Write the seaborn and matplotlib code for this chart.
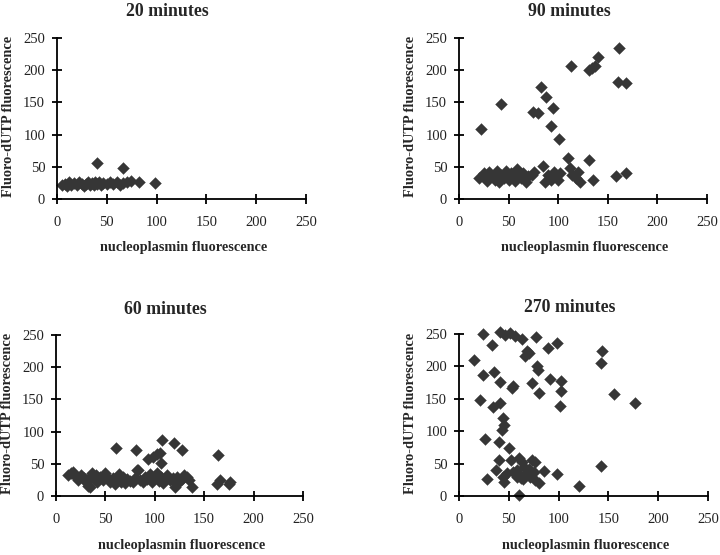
import numpy as np
import pandas as pd
import matplotlib
matplotlib.use("Agg")
import matplotlib.pyplot as plt
import seaborn as sns

# values (nucleoplasmin vs Fluoro-dUTP fluorescence)
x20 = [5, 8, 10, 12, 14, 17, 20, 22, 25, 27, 29, 31, 33, 35, 37, 38, 40, 42, 44, 46,
       50, 53, 56, 60, 63, 66, 70, 74, 82, 98, 40, 66]
y20 = [21, 23, 20, 27, 22, 25, 21, 26, 24, 20, 23, 26, 22, 25, 21, 27, 24, 26, 22, 25,
       23, 27, 24, 26, 22, 25, 27, 28, 26, 25, 56, 48]

x90 = [22, 42, 75, 80, 83, 88, 95, 93, 101, 113, 131, 134, 137, 140, 161, 160, 168,
       20, 25, 28, 30, 33, 36, 38, 40, 42, 45, 47, 50, 52, 55, 56, 58, 60, 62, 65, 68,
       70, 74, 76, 85, 87, 90, 93, 96, 98, 100, 102, 110, 112, 114, 118, 120, 122,
       131, 135, 158, 168]
y90 = [108, 147, 135, 133, 174, 158, 142, 114, 93, 207, 200, 203, 207, 221, 235, 181, 180,
       33, 40, 28, 42, 36, 30, 43, 26, 38, 33, 44, 30, 40, 36, 28, 46, 38, 32, 40, 27,
       35, 37, 42, 51, 27, 38, 30, 42, 35, 30, 40, 63, 48, 38, 32, 42, 26,
       60, 30, 35, 41]

x60 = [61, 81, 107, 119, 128, 164, 93, 98, 102, 105, 106, 83, 34, 120, 138, 163, 166, 175,
       12, 15, 17, 20, 22, 25, 28, 30, 32, 34, 36, 38, 40, 42, 45, 48, 50, 52, 55, 58,
       60, 62, 64, 66, 68, 70, 72, 75, 78, 80, 82, 85, 88, 90, 92, 95, 97, 100, 102,
       104, 106, 108, 110, 112, 115, 118, 120, 122, 125, 128, 130, 133, 135, 176]
y60 = [74, 72, 87, 82, 71, 63, 57, 60, 65, 67, 51, 41, 14, 14, 14, 19, 25, 18,
       32, 35, 38, 30, 25, 33, 28, 22, 15, 30, 36, 26, 33, 22, 29, 25, 35, 30, 22, 28,
       18, 25, 34, 22, 30, 20, 26, 24, 22, 28, 40, 25, 22, 30, 26, 34, 22, 28, 36,
       24, 30, 20, 27, 33, 25, 28, 22, 30, 24, 27, 33, 30, 25, 21]

x270 = [24, 41, 46, 51, 56, 63, 33, 77, 89, 98, 15, 68, 70, 66, 24, 35, 41, 54, 53, 73,
        80, 78, 79, 91, 102, 102, 101, 144, 143, 156, 177, 21, 34, 41, 44, 45, 43,
        26, 40, 50, 40, 52, 60, 63, 73, 76, 143, 37, 44, 45, 28, 54, 58, 61, 64, 68,
        71, 75, 76, 80, 85, 98, 120, 60, 65, 70, 58, 62, 48]
y270 = [250, 253, 248, 252, 247, 243, 233, 245, 229, 236, 210, 223, 220, 216, 187, 191,
        176, 169, 166, 174, 159, 200, 194, 180, 177, 162, 139, 224, 206, 157, 143, 148,
        137, 143, 121, 110, 102, 88, 83, 74, 56, 55, 58, 53, 56, 53, 47, 40, 30, 22,
        27, 37, 30, 32, 27, 35, 30, 37, 25, 20, 39, 34, 15, 2, 45, 42, 40, 28, 35]

ticks = [0, 50, 100, 150, 200, 250]

# (title, x, y, axes rect in figure pixels: left, top, right, bottom)
panels = [
    ("20 minutes", x20, y20, (57, 38, 306, 199)),
    ("90 minutes", x90, y90, (459, 38, 707, 199)),
    ("60 minutes", x60, y60, (56, 335, 303, 496)),
    ("270 minutes", x270, y270, (459, 334, 708, 496)),
]

sns.set_style("ticks")
plt.rcParams["font.family"] = ["Liberation Serif", "DejaVu Serif"]

W, H = 720, 555
fig = plt.figure(figsize=(W / 100, H / 100), dpi=100)

for title, xs, ys, (l, t, r, b) in panels:
    ax = fig.add_axes([l / W, 1 - b / H, (r - l) / W, (b - t) / H])
    df = pd.DataFrame({"x": xs, "y": ys})
    sns.scatterplot(data=df, x="x", y="y", ax=ax, marker="D", s=36,
                    color="#363636", edgecolor="#363636", linewidth=0.3, clip_on=False)
    ax.set_xlim(0, 250)
    ax.set_ylim(0, 250)
    ax.set_xticks(ticks)
    ax.set_yticks(ticks)
    ax.set_xlabel("")
    ax.set_ylabel("")
    for side in ["top", "right"]:
        ax.spines[side].set_visible(False)
    for side in ["left", "bottom"]:
        ax.spines[side].set_linewidth(1.3)
        ax.spines[side].set_color("black")
    ax.tick_params(axis="both", direction="inout", length=7, width=1.3,
                   labelsize=10.5, colors="black", labelcolor="#222222")
    ax.tick_params(axis="x", pad=9)
    ax.tick_params(axis="y", pad=5)

    cx = (l + r) / 2
    fig.text((cx - 14) / W, 1 - (t - 26) / H, title, ha="center", va="center",
             fontsize=12.8, fontweight="bold")
    fig.text((cx + 2) / W, 1 - (b + 49) / H, "nucleoplasmin fluorescence",
             ha="center", va="center", fontsize=10.3, fontweight="bold")
    fig.text((l - 48) / W, 1 - ((t + b) / 2 - 2) / H, "Fluoro-dUTP fluorescence",
             ha="center", va="center", rotation=90, fontsize=10.4, fontweight="bold")

fig.savefig("out.png", dpi=100)
